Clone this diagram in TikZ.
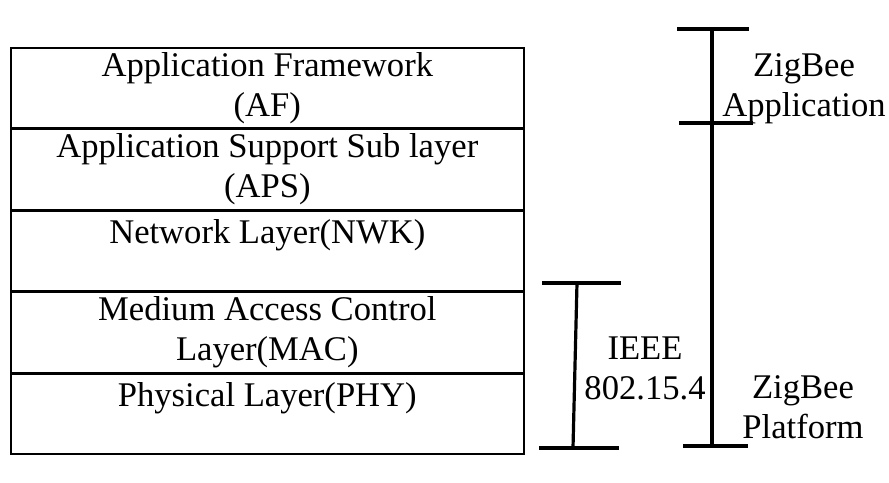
\documentclass[tikz,border=0pt]{standalone}
\usepackage{fontspec}
\setmainfont{Liberation Serif}
\usetikzlibrary{positioning}
\tikzset{
    layer/.style={draw, line width=0.8pt, minimum width=256.5pt, minimum height=40pt,
        inner sep=0pt, align=center, font=\fontsize{17.3}{20}\selectfont},
    lbl/.style={inner sep=0pt, align=center, font=\fontsize{17.3}{20}\selectfont},
    bar/.style={line width=1.6pt}
}
\begin{document}
\begin{tikzpicture}[x=0.5pt,y=-0.5pt]
    \useasboundingbox (0,0) rectangle (889,482);

    % protocol stack
    \node[layer, anchor=north west] (af) at (10,47) {Application Framework\\(AF)};
    \node[layer, below=0pt of af] (aps) {Application Support Sub layer\\(APS)};
    \node[layer, below=0pt of aps] (nwk) {Network Layer(NWK)\\\mbox{}};
    \node[layer, below=0pt of nwk] (mac) {Medium Access Control\\Layer(MAC)};
    \node[layer, below=0pt of mac] (phy) {Physical Layer(PHY)\\\mbox{}};

    % IEEE bracket
    \coordinate (ieeetop) at (577,283);
    \coordinate (ieeebot) at (573,448);
    \draw[bar] (542,283) -- (621,283);
    \draw[bar] (ieeetop) -- (ieeebot);
    \draw[bar] (539,448) -- (619,448);
    \node[lbl] (ieee) at (645,368) {IEEE\\802.15.4};

    % ZigBee bracket
    \coordinate (zbtop) at (712,29);
    \coordinate (zbbot) at (712,446);
    \draw[bar] (677,29) -- (749,29);
    \draw[bar] (679,123) -- (753,123);
    \draw[bar] (683,446) -- (748,446);
    \draw[bar] (zbtop) -- (zbbot);
    \node[lbl] (zbapp) at (804,89) {ZigBee\\Application};
    \node[lbl] (zbplat) at (803,407) {ZigBee\\Platform};
\end{tikzpicture}
\end{document}
